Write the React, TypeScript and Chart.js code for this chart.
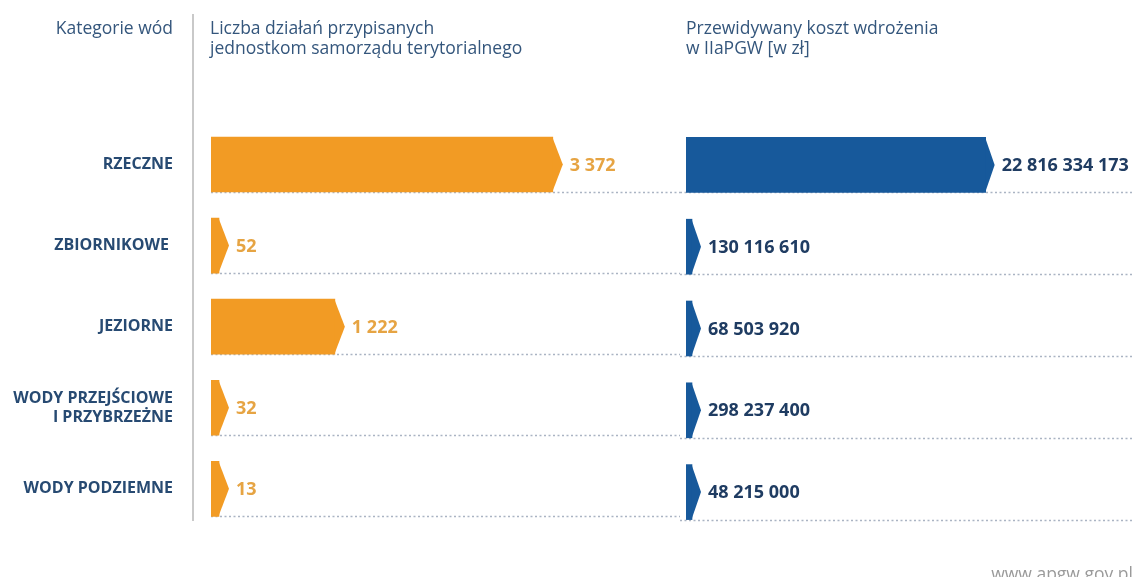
import React, { useEffect, useRef } from "react";
import { Chart, registerables } from "chart.js";

Chart.register(...registerables);

// ---- data ----
const categories: (string | string[])[] = [
  "RZECZNE",
  "ZBIORNIKOWE ",
  "JEZIORNE",
  ["WODY PRZEJŚCIOWE", "I PRZYBRZEŻNE"],
  "WODY PODZIEMNE",
];
const actionCounts = [3372, 52, 1222, 32, 13];
const costsPLN = [22816334173, 130116610, 68503920, 298237400, 48215000];
const headerCategory = "Kategorie wód";
const headerCounts = ["Liczba działań przypisanych", "jednostkom samorządu terytorialnego"];
const headerCosts = ["Przewidywany koszt wdrożenia", "w IIaPGW [w zł]"];
const footerText = "www.apgw.gov.pl";

// ---- styles ----
const FONT = "'Open Sans', 'Noto Sans', sans-serif";
const ORANGE = "#f29b24";
const ORANGE_LABEL = "#e6a443";
const BLUE = "#17599b";
const BLUE_LABEL = "#1f3c62";
const CAT_COLOR = "#274a72";
const HEAD_COLOR = "#34567c";
const DOT_COLOR = "#aab4c3";

const fmt = (v: number) => String(v).replace(/\B(?=(\d{3})+(?!\d))/g, " ");

function arrowPlugin(o: {
  color: string;
  labelColor: string;
  tip: number;
  dotFrom: number;
  dotTo: number;
  separator?: number;
}) {
  return {
    id: "arrowBars",
    beforeDatasetsDraw(chart: any) {
      const ctx = chart.ctx;
      const meta = chart.getDatasetMeta(0);
      ctx.save();
      if (o.separator !== undefined) {
        ctx.strokeStyle = "#c9c9c9";
        ctx.lineWidth = 2;
        ctx.beginPath();
        ctx.moveTo(o.separator, 14);
        ctx.lineTo(o.separator, 521);
        ctx.stroke();
      }
      ctx.strokeStyle = DOT_COLOR;
      ctx.lineWidth = 1.5;
      ctx.setLineDash([2, 2.5]);
      meta.data.forEach((el: any) => {
        const { y, height } = el.getProps(["y", "height"], true);
        const yb = Math.round(y + height / 2) + 0.5;
        ctx.beginPath();
        ctx.moveTo(o.dotFrom, yb);
        ctx.lineTo(o.dotTo, yb);
        ctx.stroke();
      });
      ctx.restore();
    },
    afterDatasetsDraw(chart: any) {
      const ctx = chart.ctx;
      const meta = chart.getDatasetMeta(0);
      const data = chart.data.datasets[0].data as number[];
      ctx.save();
      meta.data.forEach((el: any, i: number) => {
        const { x, y, height } = el.getProps(["x", "y", "height"], true);
        ctx.fillStyle = o.color;
        ctx.beginPath();
        ctx.moveTo(x - 0.5, y - height / 2);
        ctx.lineTo(x + o.tip, y);
        ctx.lineTo(x - 0.5, y + height / 2);
        ctx.closePath();
        ctx.fill();
        ctx.fillStyle = o.labelColor;
        ctx.font = `bold 18px ${FONT}`;
        ctx.textAlign = "left";
        ctx.textBaseline = "middle";
        ctx.fillText(fmt(data[i]), x + o.tip + 7, y + 1);
      });
      ctx.restore();
    },
  };
}

export default function App() {
  const leftRef = useRef<HTMLCanvasElement>(null);
  const rightRef = useRef<HTMLCanvasElement>(null);

  useEffect(() => {
    const left = new Chart(leftRef.current!, {
      type: "bar",
      data: {
        labels: categories,
        datasets: [
          {
            data: actionCounts,
            backgroundColor: ORANGE,
            borderWidth: 0,
            barThickness: 55,
            minBarLength: 8,
          },
        ],
      },
      options: {
        indexAxis: "y",
        animation: false,
        responsive: false,
        layout: { padding: { left: 0, right: 23, top: 124, bottom: 44 } },
        scales: {
          x: { display: false, min: 0, max: 4400 },
          y: {
            grid: { display: false, drawTicks: false },
            border: { display: false },
            ticks: {
              padding: 38,
              color: CAT_COLOR,
              font: { family: FONT, size: 16, weight: "bold", lineHeight: 1.2 },
            },
            afterFit(s: any) {
              s.width = 211;
            },
          },
        },
        plugins: { legend: { display: false }, tooltip: { enabled: false } },
      },
      plugins: [
        arrowPlugin({
          color: ORANGE,
          labelColor: ORANGE_LABEL,
          tip: 10,
          dotFrom: 211,
          dotTo: 680,
          separator: 193,
        }),
      ],
    } as any);

    const right = new Chart(rightRef.current!, {
      type: "bar",
      data: {
        labels: categories,
        datasets: [
          {
            data: costsPLN,
            backgroundColor: BLUE,
            borderWidth: 0,
            barThickness: 55,
            minBarLength: 6,
          },
        ],
      },
      options: {
        indexAxis: "y",
        animation: false,
        responsive: false,
        layout: { padding: { left: 6, right: 57, top: 124, bottom: 44 } },
        scales: {
          x: { display: false, min: 0, max: 30e9 },
          y: { display: false },
        },
        plugins: { legend: { display: false }, tooltip: { enabled: false } },
      },
      plugins: [
        arrowPlugin({
          color: BLUE,
          labelColor: BLUE_LABEL,
          tip: 9,
          dotFrom: 0,
          dotTo: 453,
        }),
      ],
    } as any);

    return () => {
      left.destroy();
      right.destroy();
    };
  }, []);

  const head: React.CSSProperties = {
    position: "absolute",
    fontFamily: FONT,
    fontSize: 17.5,
    fontWeight: 500,
    lineHeight: "20px",
    color: HEAD_COLOR,
    whiteSpace: "nowrap",
  };

  return (
    <div
      style={{
        position: "fixed",
        left: 0,
        top: 0,
        width: 1137,
        height: 577,
        background: "#fff",
        overflow: "hidden",
      }}
    >
      <canvas
        ref={leftRef}
        width={680}
        height={577}
        style={{ position: "absolute", left: 0, top: 0 }}
      />
      <canvas
        ref={rightRef}
        width={457}
        height={577}
        style={{ position: "absolute", left: 680, top: 0 }}
      />
      <div style={{ ...head, left: 0, width: 173, top: 17, textAlign: "right" }}>
        {headerCategory}
      </div>
      <div style={{ ...head, left: 210, top: 17 }}>
        {headerCounts[0]}
        <br />
        {headerCounts[1]}
      </div>
      <div style={{ ...head, left: 686, top: 17 }}>
        {headerCosts[0]}
        <br />
        {headerCosts[1]}
      </div>
      <div
        style={{
          position: "absolute",
          right: 4,
          top: 561,
          fontFamily: FONT,
          fontSize: 17.5,
          color: "#9a9a9a",
        }}
      >
        {footerText}
      </div>
    </div>
  );
}
